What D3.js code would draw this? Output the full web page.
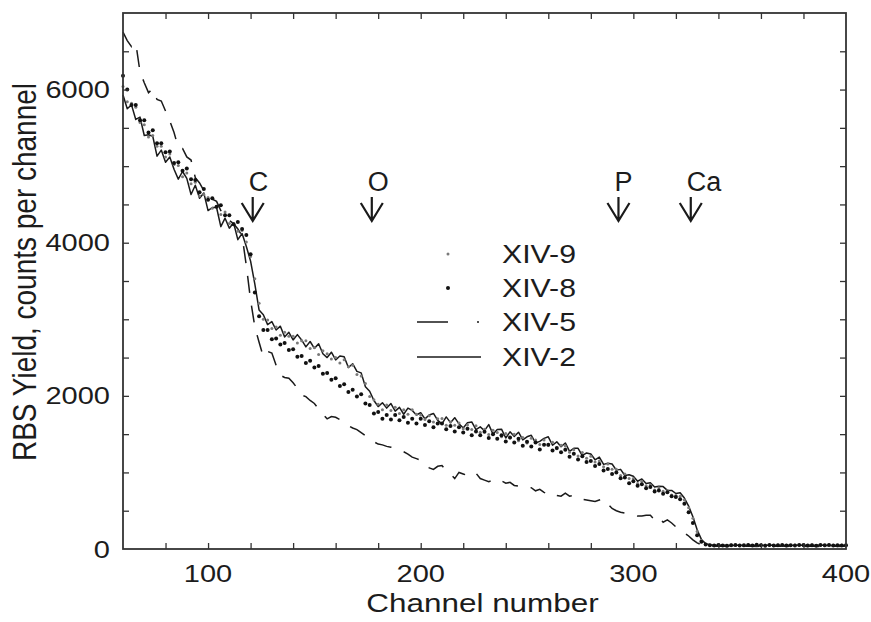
<!DOCTYPE html>
<html><head><meta charset="utf-8">
<script src="https://cdn.jsdelivr.net/npm/d3@7/dist/d3.min.js"></script>
<style>
body{margin:0;background:#fff}
text{font-family:"Liberation Sans",Arial,Helvetica,sans-serif;fill:#1c1c1c}
</style>
</head><body>
<svg id="chart" width="871" height="622"></svg>
<script>
// ---------------- DATA ----------------
const channels = [
 60,62,64,66,68,70,72,74,76,78,
 80,82,84,86,88,90,92,94,96,98,
 100,102,104,106,108,110,112,114,116,118,
 120,122,124,126,128,130,132,134,136,138,
 140,142,144,146,148,150,152,154,156,158,
 160,162,164,166,168,170,172,174,176,178,
 180,182,184,186,188,190,192,194,196,198,
 200,202,204,206,208,210,212,214,216,218,
 220,222,224,226,228,230,232,234,236,238,
 240,242,244,246,248,250,252,254,256,258,
 260,262,264,266,268,270,272,274,276,278,
 280,282,284,286,288,290,292,294,296,298,
 300,302,304,306,308,310,312,314,316,318,
 320,322,324,326,328,330,332,334,336,338,
 340,342,344,346,348,350,352,354,356,358,
 360,362,364,366,368,370,372,374,376,378,
 380,382,384,386,388,390,392,394,396,398,
 400];

const xiv9 = [
 6040,5840,5820,5770,5570,5540,5380,5400,5260,5260,
 5120,5160,5020,5010,4860,4910,4770,4790,4610,4630,
 4590,4450,4470,4370,4400,4250,4250,4150,4160,4010,
 3820,3530,3210,3000,2990,2880,2900,2790,2830,2780,
 2780,2690,2720,2720,2620,2630,2540,2590,2550,2480,
 2500,2430,2470,2380,2400,2280,2260,2160,1990,1950,
 1890,1820,1880,1810,1850,1770,1820,1760,1820,1760,
 1750,1690,1740,1660,1700,1705,1615,1660,1615,1645,
 1570,1620,1560,1610,1525,1565,1495,1550,1520,1465,
 1510,1450,1500,1415,1455,1385,1445,1425,1365,1425,
 1355,1395,1310,1355,1345,1265,1295,1215,1260,1185,
 1210,1135,1150,1075,1110,1040,1040,960,980,920,
 920,855,885,825,835,770,800,755,765,705,
 700,690,640,540,400,230,115,65,52,47,
 51,45,49,54,46,50,44,52,47,53,
 46,51,48,44,53,47,50,45,52,49,
 45,50,54,47,49,44,52,48,46,51,
 47];

const xiv8 = [
 6180,6000,5800,5800,5600,5600,5440,5470,5300,5300,
 5180,5190,5040,5050,4940,4970,4830,4820,4660,4700,
 4560,4580,4470,4490,4360,4360,4240,4270,4180,4100,
 3850,3350,3040,2860,2860,2740,2750,2670,2690,2600,
 2610,2510,2520,2430,2460,2370,2390,2290,2300,2210,
 2230,2130,2150,2050,2080,1990,2020,1900,1880,1770,
 1790,1700,1750,1690,1750,1680,1725,1650,1700,1640,
 1700,1620,1670,1590,1640,1640,1565,1605,1535,1590,
 1520,1570,1485,1535,1485,1530,1450,1500,1440,1485,
 1405,1455,1390,1440,1350,1400,1340,1390,1300,1360,
 1360,1285,1320,1265,1295,1205,1245,1170,1210,1135,
 1150,1085,1110,1025,1045,980,1000,925,935,860,
 885,825,845,795,810,750,765,720,740,690,
 680,650,590,480,340,180,95,60,50,46,
 52,47,44,50,53,45,49,51,46,54,
 48,44,52,46,50,53,45,49,47,51,
 53,46,49,44,51,48,52,45,50,47,
 49];

const xiv5 = [
 6750,6640,6560,6610,6230,6090,5960,6010,5870,5850,
 5720,5590,5440,5240,5230,5120,5080,4850,4780,4680,
 4660,4570,4540,4420,4360,4290,4250,4180,4090,3700,
 3250,2900,2700,2510,2580,2560,2400,2270,2240,2230,
 2170,2100,2010,1990,1940,1900,1830,1760,1700,1730,
 1720,1690,1640,1610,1580,1560,1520,1480,1430,1400,
 1370,1360,1340,1330,1310,1290,1270,1240,1200,1180,
 1160,1100,1060,1040,1080,1090,1020,980,920,1000,
 980,960,950,990,920,900,880,900,870,890,
 860,870,830,820,800,790,800,760,780,740,
 710,730,700,690,730,690,700,660,650,640,
 630,620,640,660,590,530,500,480,470,455,
 445,430,430,440,440,380,420,350,380,340,
 290,250,210,170,120,80,55,42,38,36,
 35,38,33,37,36,34,39,35,37,34,
 36,39,34,37,35,38,33,36,39,35,
 37,34,38,35,33,37,36,39,34,36,
 35];

const xiv2 = [
 5930,5750,5800,5610,5640,5400,5410,5390,5130,5210,
 5050,5120,4960,4830,4930,4840,4630,4750,4580,4650,
 4420,4460,4460,4210,4320,4190,4260,4040,4120,3950,
 3760,3460,3120,3060,2930,2970,2860,2910,2770,2830,
 2730,2800,2730,2640,2710,2620,2680,2550,2500,2570,
 2470,2520,2510,2370,2420,2320,2300,2120,2060,1940,
 1860,1910,1840,1900,1800,1850,1760,1840,1810,1750,
 1780,1700,1750,1770,1680,1635,1725,1650,1715,1635,
 1580,1650,1660,1560,1595,1545,1625,1500,1560,1565,
 1450,1530,1470,1525,1425,1465,1485,1385,1405,1445,
 1465,1355,1400,1335,1385,1275,1315,1315,1220,1255,
 1240,1165,1200,1105,1120,1110,1030,1040,960,970,
 950,885,915,855,865,810,820,815,765,765,
 725,735,665,560,420,250,125,70,55,50,
 48,53,45,50,47,52,44,49,51,46,
 50,45,52,47,49,44,53,48,46,51,
 47,52,45,49,53,46,50,44,51,48,
 49];

const seriesNames = ["XIV-9","XIV-8","XIV-5","XIV-2"];
const xTickLabels = [100,200,300,400];
const yTickLabels = [0,2000,4000,6000];
const xMinorTicks = [80,100,120,140,160,180,200,220,240,260,280,300,320,340,360,380];
const yMinorTicks = [500,1000,1500,2000,2500,3000,3500,4000,4500,5000,5500,6000,6500];
const elementLabels = ["C","O","P","Ca"];
const elementChannels = [121,177,293,327];

// ---------------- CHART ----------------
const svg = d3.select("#chart");
const x = d3.scaleLinear().domain([60,400]).range([123,846]);
const y = d3.scaleLinear().domain([0,7000]).range([549,13]);
const SX = 1.21; // horizontal stretch of the original lettering
const ink = "#1a1a1a";

const [x0,x1] = x.range();
const [y0,y1] = y.range();

// data
const line = d3.line().x((d,i)=>x(channels[i])).y(d=>y(d));
const plot = svg.append("g");

plot.append("path").datum(xiv5).attr("d",line)
  .attr("fill","none").attr("stroke",ink).attr("stroke-width",1.5)
  .attr("stroke-dasharray","17,13");

plot.append("path").datum(xiv2).attr("d",line)
  .attr("fill","none").attr("stroke",ink).attr("stroke-width",1.5)
  .attr("stroke-linejoin","round");

plot.append("g").selectAll("circle").data(xiv9).join("circle")
  .attr("cx",(d,i)=>x(channels[i])).attr("cy",d=>y(d)).attr("r",1.5).attr("fill","#7a7a7a");

plot.append("g").selectAll("circle").data(xiv8).join("circle")
  .attr("cx",(d,i)=>x(channels[i])).attr("cy",d=>y(d)).attr("r",2).attr("fill","#111");

// axes (ticks inward on all four sides)
function styleAxis(g){
  g.select(".domain").remove();
  g.selectAll(".tick line").attr("stroke","#333").attr("stroke-width",1.3);
  g.selectAll(".tick text").remove();
}
svg.append("g").attr("transform",`translate(0,${y0})`)
  .call(d3.axisBottom(x).tickValues(xMinorTicks).tickSize(-6).tickFormat("")).call(styleAxis);
svg.append("g").attr("transform",`translate(0,${y1})`)
  .call(d3.axisTop(x).tickValues(xMinorTicks).tickSize(-6).tickFormat("")).call(styleAxis);
svg.append("g").attr("transform",`translate(${x0},0)`)
  .call(d3.axisLeft(y).tickValues(yMinorTicks).tickSize(-6).tickFormat("")).call(styleAxis);
svg.append("g").attr("transform",`translate(${x1},0)`)
  .call(d3.axisRight(y).tickValues(yMinorTicks).tickSize(-6).tickFormat("")).call(styleAxis);

svg.append("rect").attr("x",x0).attr("y",y1).attr("width",x1-x0).attr("height",y0-y1)
  .attr("fill","none").attr("stroke","#333").attr("stroke-width",1.8);

// tick labels
svg.append("g").selectAll("text").data(xTickLabels).join("text")
  .attr("transform",d=>`translate(${x(d)},582) scale(${SX},1)`)
  .attr("text-anchor","middle").attr("font-size",24).text(d=>d);
svg.append("g").selectAll("text").data(yTickLabels).join("text")
  .attr("transform",d=>`translate(110,${y(d)+8.5}) scale(${SX},1)`)
  .attr("text-anchor","end").attr("font-size",24).text(d=>d);

// axis titles
svg.append("text").attr("transform",`translate(${(x0+x1)/2 - 2},612) scale(${SX},1)`)
  .attr("text-anchor","middle").attr("font-size",26).text("Channel number");
svg.append("text").attr("transform",`translate(36,272) scale(${SX},1) rotate(-90)`)
  .attr("text-anchor","middle").attr("font-size",28).text("RBS Yield, counts per channel");

// element edge markers
const mk = svg.append("g").selectAll("g").data(elementLabels).join("g")
  .attr("transform",(d,i)=>`translate(${x(elementChannels[i])},0)`);
mk.append("text").attr("x",-4).attr("y",191).attr("font-size",27).text(d=>d);
mk.append("path").attr("d","M0,197V221M-11,203L0,221L11,203")
  .attr("fill","none").attr("stroke",ink).attr("stroke-width",2.2);

// legend
const lgY = [254,288,322,357];
const lg = svg.append("g");
lg.append("circle").attr("cx",448).attr("cy",lgY[0]).attr("r",1.5).attr("fill","#7a7a7a");
lg.append("circle").attr("cx",448).attr("cy",lgY[1]).attr("r",2).attr("fill","#111");
lg.append("path").attr("d",`M417,${lgY[2]}H481`).attr("stroke",ink).attr("stroke-width",1.5)
  .attr("stroke-dasharray","31,29,2,40");
lg.append("path").attr("d",`M417,${lgY[3]}H481`).attr("stroke",ink).attr("stroke-width",1.5);
lg.selectAll("text").data(seriesNames).join("text")
  .attr("transform",(d,i)=>`translate(502,${lgY[i]+8.5}) scale(${SX},1)`)
  .attr("font-size",25).text(d=>d);
</script>
</body></html>
